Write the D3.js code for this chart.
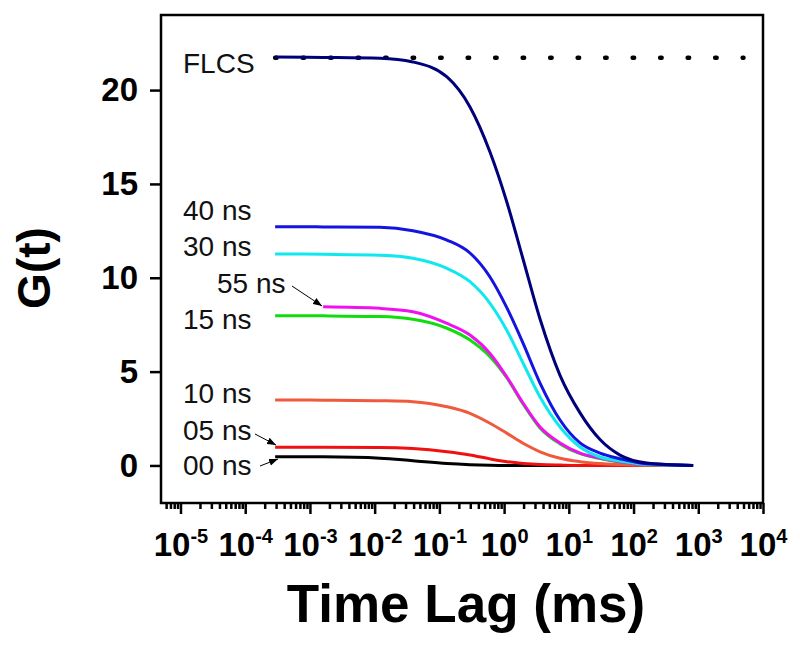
<!DOCTYPE html>
<html>
<head>
<meta charset="utf-8">
<title>G(t) vs Time Lag</title>
<script src="https://cdn.jsdelivr.net/npm/d3@7"></script>
<style>
  body { margin: 0; background: #fff; }
  text { font-family: Arial, "Liberation Sans", sans-serif; }
</style>
</head>
<body>
<svg width="800" height="648" id="mainsvg"></svg>
<script>
    // time lag sample points (ms)
    const timeLag = [2.9e-4, 1.6e-3, 0.0121, 0.039, 0.131, 0.297, 0.605, 1.11, 1.96, 3.59, 7.31, 14.9, 30.3, 61.7, 160, 832];

    const gFLCS = [21.76, 21.74, 21.7, 21.5, 20.7, 19.1, 16.7, 14.0, 11.0, 7.8, 4.8, 2.8, 1.38, 0.55, 0.13, 0];
    const g40 = [12.72, 12.71, 12.69, 12.51, 12.01, 11.32, 10.04, 8.38, 6.52, 4.39, 2.42, 1.2, 0.66, 0.36, 0.09, 0];
    const g30 = [11.27, 11.25, 11.2, 11.04, 10.5, 9.79, 8.64, 7.18, 5.46, 3.65, 2.05, 0.98, 0.45, 0.24, 0.06, 0];
    const g55 = [null, 8.45, 8.37, 8.19, 7.57, 6.95, 5.97, 4.7, 3.33, 2.05, 1.2, 0.66, 0.4, 0.2, 0.05, 0];
    const g15 = [7.98, 7.97, 7.93, 7.79, 7.31, 6.68, 5.79, 4.65, 3.28, 2.0, 1.15, 0.63, 0.37, 0.18, 0.04, 0];
    const g10 = [3.49, 3.48, 3.45, 3.40, 3.13, 2.78, 2.25, 1.71, 1.18, 0.73, 0.38, 0.2, 0.1, 0.05, 0.01, 0];
    const g05 = [0.97, 0.97, 0.96, 0.9, 0.73, 0.56, 0.35, 0.2, 0.11, 0.05, 0.02, 0, 0, 0, 0, 0];
    const g00 = [0.47, 0.46, 0.39, 0.25, 0.1, 0.04, 0.01, 0, 0, 0, 0, 0, 0, 0, 0, 0];

    // FLCS plateau (dotted reference line)
    const flcsLevel = 21.72;
    const flcsSpan = [2.9e-4, 5000];

    const seriesNames = ["00 ns", "05 ns", "10 ns", "15 ns", "55 ns", "30 ns", "40 ns", "FLCS"];
    const seriesValues = [g00, g05, g10, g15, g55, g30, g40, gFLCS];
    const seriesColors = ["#000000", "#f01010", "#f05a3c", "#10dd10", "#f010f0", "#10e8f0", "#1414e0", "#00007a"];

    const yTicks = [0, 5, 10, 15, 20];
    const yMinor = [2.5, 7.5, 12.5, 17.5, 22.5];
    const xTicks = [1e-5, 1e-4, 1e-3, 1e-2, 1e-1, 1, 10, 100, 1000, 10000];

    let mainsvg = d3.select('#mainsvg');

    const x = d3.scaleLog().domain([5e-6, 1e4]).range([161, 763]);
    const y = d3.scaleLinear().domain([-2, 24]).range([503, 15]);

    // minor ticks on log axis
    let xMinor = [];
    for (let e = -6; e < 4; e++) {
        for (let k = 2; k <= 9; k++) {
            let v = k * Math.pow(10, e);
            if (v >= 5e-6 && v <= 1e4) xMinor.push(v);
        }
    }

    // y axis
    let yAxisG = mainsvg.append('g').attr('transform', 'translate(161,0)');
    yAxisG.call(d3.axisLeft(y).tickValues(yMinor).tickSize(6).tickFormat(''));
    yAxisG.call(d3.axisLeft(y).tickValues(yTicks).tickSize(11).tickPadding(12).tickFormat(d3.format('d')));
    yAxisG.selectAll('.domain').remove();
    yAxisG.selectAll('line').attr('stroke', '#000').attr('stroke-width', 2.5);
    yAxisG.selectAll('text')
        .attr('font-size', 33)
        .attr('font-weight', 'bold')
        .attr('font-family', 'Arial, "Liberation Sans", sans-serif')
        .attr('fill', '#000');

    // x axis
    let xAxisG = mainsvg.append('g').attr('transform', 'translate(0,503)');
    let xMinorG = xAxisG.append('g');
    xMinorG.call(d3.axisBottom(x).tickValues(xMinor).tickSize(6).tickFormat(''));
    let xMajorG = xAxisG.append('g');
    xMajorG.call(d3.axisBottom(x).tickValues(xTicks).tickSize(11).tickFormat(''));
    xAxisG.selectAll('.domain').remove();
    xAxisG.selectAll('line').attr('stroke', '#000').attr('stroke-width', 2.5);
    xMajorG.selectAll('.tick text').each(function(d) {
        let t = d3.select(this).text(null)
            .attr('y', 53).attr('dy', 0)
            .attr('font-size', 33)
            .attr('font-weight', 'bold')
            .attr('font-family', 'Arial, "Liberation Sans", sans-serif')
            .attr('fill', '#000');
        t.append('tspan').text('10');
        t.append('tspan').attr('dy', -13).attr('font-size', 20).text(Math.round(Math.log10(d)));
    });

    // frame
    mainsvg.append('rect')
        .attr('x', x.range()[0]).attr('y', y.range()[1])
        .attr('width', x.range()[1] - x.range()[0])
        .attr('height', y.range()[0] - y.range()[1])
        .attr('fill', 'none')
        .attr('stroke', '#000')
        .attr('stroke-width', 2.5);

    // dotted FLCS level
    mainsvg.append('line')
        .attr('x1', x(flcsSpan[0])).attr('x2', x(flcsSpan[1]))
        .attr('y1', y(flcsLevel)).attr('y2', y(flcsLevel))
        .attr('stroke', '#000')
        .attr('stroke-width', 4.5)
        .attr('stroke-linecap', 'round')
        .attr('stroke-dasharray', '1.5 26');

    // curves
    const line = d3.line()
        .x(d => x(d[0]))
        .y(d => y(d[1]))
        .curve(d3.curveMonotoneX);

    seriesValues.forEach(function(vals, i) {
        let pts = timeLag.map((t, j) => [t, vals[j]]).filter(p => p[1] != null);
        mainsvg.append('path')
            .attr('d', line(pts))
            .attr('fill', 'none')
            .attr('stroke', seriesColors[i])
            .attr('stroke-width', 3);
    });

    // labels
    const labelPos = {
        "FLCS": [183, 73], "40 ns": [183, 220], "30 ns": [183, 256], "55 ns": [217, 293],
        "15 ns": [183, 329], "10 ns": [183, 403], "05 ns": [183, 440], "00 ns": [183, 475]
    };
    seriesNames.forEach(function(n) {
        mainsvg.append('text')
            .attr('x', labelPos[n][0]).attr('y', labelPos[n][1])
            .attr('font-size', 28)
            .attr('fill', '#111')
            .text(n);
    });

    // arrows
    mainsvg.append('defs').append('marker')
        .attr('id', 'arrow')
        .attr('markerUnits', 'userSpaceOnUse')
        .attr('viewBox', '0 -4 9 8')
        .attr('refX', 9).attr('refY', 0)
        .attr('markerWidth', 9).attr('markerHeight', 8)
        .attr('orient', 'auto')
        .append('path').attr('d', 'M0,-3.5L9,0L0,3.5Z').attr('fill', '#000');
    const arrows = [[292, 286, 322, 306], [255, 434, 276, 445], [260, 466, 278, 459]];
    arrows.forEach(function(a) {
        mainsvg.append('line')
            .attr('x1', a[0]).attr('y1', a[1]).attr('x2', a[2]).attr('y2', a[3])
            .attr('stroke', '#000').attr('stroke-width', 1)
            .attr('marker-end', 'url(#arrow)');
    });

    // axis titles
    mainsvg.append('text')
        .attr('x', 466).attr('y', 622)
        .attr('text-anchor', 'middle')
        .attr('font-size', 53)
        .attr('font-weight', 'bold')
        .text('Time Lag (ms)');
    mainsvg.append('text')
        .attr('transform', 'translate(50,268) rotate(-90)')
        .attr('text-anchor', 'middle')
        .attr('font-size', 46)
        .attr('font-weight', 'bold')
        .text('G(t)');
</script>
</body>
</html>
